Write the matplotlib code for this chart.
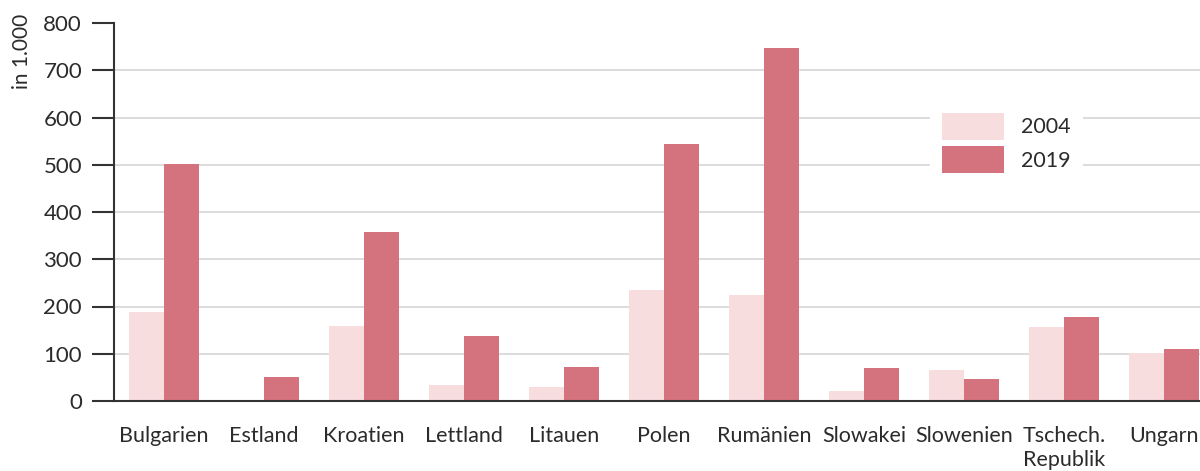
import matplotlib.pyplot as plt
import numpy as np

countries = ['Bulgarien', 'Estland', 'Kroatien', 'Lettland', 'Litauen', 'Polen',
             'Rumänien', 'Slowakei', 'Slowenien', 'Tschech.\nRepublik', 'Ungarn']
v2004 = [188, 3, 159, 34, 30, 235, 224, 21, 66, 157, 102]
v2019 = [501, 51, 358, 138, 72, 544, 747, 70, 47, 178, 110]

c2004 = '#f8dddf'
c2019 = '#d4737d'
txt = '#2b2b2b'

plt.rcParams['font.family'] = ['Lato', 'DejaVu Sans']

fig = plt.figure(figsize=(12, 4.71), dpi=100)
ax = fig.add_axes([114 / 1200, 1 - 401 / 471, 1 - 114 / 1200, (401 - 23) / 471])

x = np.arange(len(countries))
w = 0.35
ax.bar(x - w / 2, v2004, w, color=c2004, label='2004', zorder=2)
ax.bar(x + w / 2, v2019, w, color=c2019, label='2019', zorder=2)

ax.set_ylim(0, 800)
ax.set_xlim(-0.5, 10.36)
ax.set_yticks(range(0, 801, 100))
ax.yaxis.grid(True, color='#d6d6d6', linewidth=1.2, zorder=0)
ax.set_axisbelow(True)
# no gridline at the top tick
ax.yaxis.get_gridlines()[-1].set_visible(False)

for s in ['top', 'right']:
    ax.spines[s].set_visible(False)
for s in ['left', 'bottom']:
    ax.spines[s].set_color('#333333')
    ax.spines[s].set_linewidth(1.5)

ax.tick_params(axis='y', length=16, width=1.5, color='#333333', labelsize=16,
               labelcolor=txt, pad=7)
ax.set_xticks(x)
ax.set_xticklabels(countries, fontsize=15.5, color=txt, linespacing=1.25)
ax.tick_params(axis='x', length=0, pad=18)

fig.text(22 / 1200, 1 - 14 / 471, 'in 1.000', rotation=90, ha='center', va='top',
         fontsize=15, color=txt)

leg = ax.legend(loc='upper left', bbox_to_anchor=(919 / 1200, 1 - 90 / 471),
                bbox_transform=fig.transFigure, frameon=True, fontsize=15.5,
                handlelength=2.9, handleheight=1.55, labelspacing=0.3,
                handletextpad=0.8, borderpad=0.55, fancybox=False)
leg.get_frame().set_facecolor('white')
leg.get_frame().set_edgecolor('none')
leg.get_frame().set_alpha(1)
for t in leg.get_texts():
    t.set_color(txt)

fig.savefig('out.png', dpi=100)
